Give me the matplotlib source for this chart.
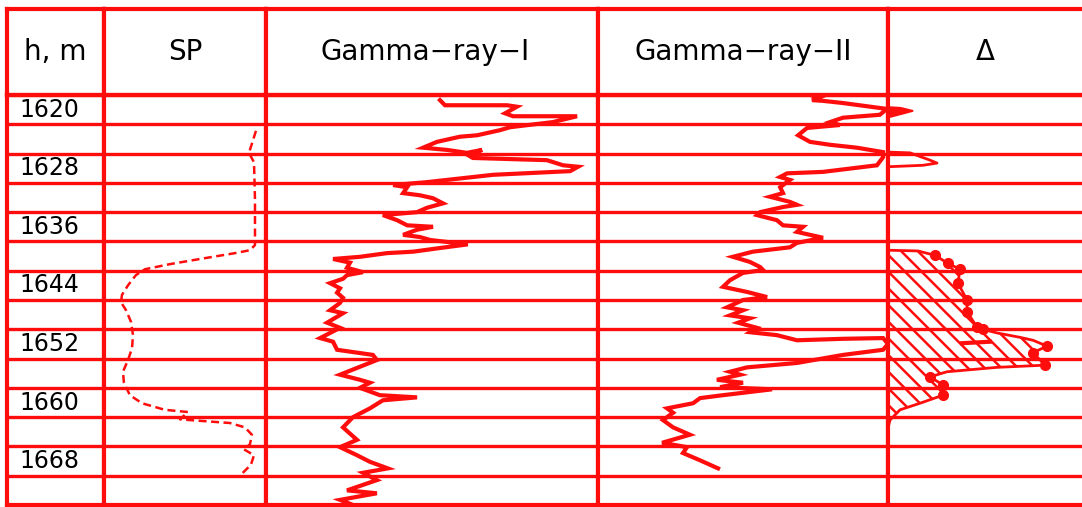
import matplotlib
matplotlib.use("Agg")
import matplotlib.pyplot as plt
import numpy as np

# ---------------------------------------------------------------- data
DEPTH_TOP, DEPTH_BOTTOM, ROW_STEP = 1618, 1674, 4
depth_labels = [1620, 1628, 1636, 1644, 1652, 1660, 1668]
headers = ["h, m", "SP", "Gamma\u2212ray\u2212I", "Gamma\u2212ray\u2212II", "\u0394"]

# SP curve (relative deflection, % of track width)
sp_depth = [1622.9, 1625.9, 1627.2, 1632.3, 1638.5, 1639.2, 1639.6, 1640.4, 1641.1,
            1641.8, 1642.6, 1644.0, 1645.3, 1646.3, 1647.4, 1649.0, 1650.8, 1652.6,
            1654.2, 1655.8, 1657.3, 1659.0, 1660.1, 1661.0, 1661.3, 1662.3, 1662.5,
            1662.8, 1663.4, 1664.4, 1665.7, 1666.4, 1667.2, 1668.5, 1670.0]
sp_value = [93.8, 89.5, 92.6, 93.2, 93.2, 90.1, 80.8, 59.2, 40.7,
            25.3, 19.7, 14.8, 11.1, 10.5, 13.6, 16.7, 17.9, 17.3,
            14.8, 11.7, 12.3, 16.0, 23.4, 37.6, 51.8, 46.9, 59.2,
            77.7, 87.0, 91.3, 90.1, 86.4, 92.6, 90.7, 83.9]

# Gamma-ray I (relative units)
gr1_depth = [1618.7, 1619.4, 1619.4, 1619.6, 1620.5, 1620.9, 1620.9, 1621.7, 1622.4,
             1622.8, 1623.5, 1623.7, 1624.4, 1625.2, 1625.5, 1625.9, 1625.5, 1626.2,
             1626.6, 1626.9, 1627.6, 1627.8, 1628.4, 1628.9, 1629.9, 1630.3, 1630.6,
             1631.4, 1631.7, 1632.1, 1632.8, 1633.4, 1634.0, 1634.4, 1635.1, 1635.8,
             1636.0, 1636.4, 1637.1, 1637.4, 1637.8, 1638.4, 1638.9, 1639.4, 1639.6,
             1640.1, 1640.4, 1640.9, 1641.6, 1642.2, 1642.6, 1643.1, 1643.7, 1644.4,
             1645.0, 1645.7, 1646.4, 1647.4, 1647.8, 1649.1, 1649.8, 1651.2, 1651.7,
             1652.8, 1653.5, 1654.2, 1656.2, 1656.9, 1657.3, 1658.0, 1659.0, 1659.3,
             1659.7, 1660.8, 1662.0, 1663.4, 1665.1, 1666.1, 1667.2, 1668.1, 1669.0,
             1669.6, 1670.6, 1672.0, 1672.4, 1673.3, 1674.0]
gr1_value = [52.4, 53.9, 72.6, 75.6, 72.0, 74.4, 93.7, 86.4, 73.5,
             70.5, 63.6, 58.4, 51.5, 47.3, 54.5, 60.5, 65.1, 60.8,
             62.3, 84.6, 89.5, 94.0, 91.6, 68.4, 48.5, 38.3, 42.5,
             41.3, 46.4, 50.3, 53.3, 48.5, 45.5, 35.2, 39.5, 42.5,
             50.3, 45.5, 41.3, 46.4, 49.4, 60.8, 52.4, 44.3, 36.4,
             28.3, 20.2, 25.3, 24.4, 29.2, 24.4, 23.2, 19.3, 22.3,
             21.4, 23.2, 22.3, 19.3, 23.2, 18.4, 22.3, 16.3, 20.2,
             21.4, 32.2, 33.4, 22.3, 28.3, 31.3, 28.3, 34.3, 45.5,
             35.2, 31.3, 26.2, 23.2, 27.4, 22.3, 27.4, 31.3, 36.7,
             29.2, 33.4, 24.4, 33.4, 22.3, 26.2]

# Gamma-ray II (relative units)
gr2_depth = [1618.0, 1618.3, 1618.7, 1618.8, 1619.1, 1619.9, 1620.7, 1621.1, 1621.7,
             1622.1, 1622.5, 1623.5, 1624.4, 1624.8, 1625.2, 1625.8, 1626.5, 1627.6,
             1628.5, 1628.7, 1629.2, 1629.6, 1630.6, 1631.4, 1631.9, 1632.6, 1633.0,
             1633.3, 1634.0, 1634.4, 1635.1, 1635.8, 1636.0, 1636.7, 1637.1, 1637.5,
             1638.2, 1638.8, 1639.4, 1640.1, 1640.8, 1641.5, 1641.9, 1642.3, 1643.3,
             1644.2, 1644.9, 1645.6, 1646.0, 1647.0, 1647.4, 1648.1, 1648.5, 1649.1,
             1649.8, 1650.4, 1650.8, 1651.5, 1651.3, 1651.2, 1652.0, 1652.8, 1653.5,
             1654.6, 1655.2, 1655.8, 1656.2, 1656.9, 1657.3, 1657.9, 1658.2, 1659.0,
             1659.4, 1660.1, 1660.8, 1661.4, 1662.4, 1663.4, 1664.4, 1665.5, 1666.1,
             1666.9, 1667.9, 1669.0]
gr2_value = [73.1, 76.5, 73.8, 77.6, 84.5, 99.6, 97.2, 84.5, 80.0,
             83.4, 72.1, 69.0, 73.1, 80.0, 89.3, 98.3, 98.3, 96.2,
             77.6, 65.2, 62.8, 66.2, 62.8, 63.8, 59.3, 66.2, 68.6,
             63.8, 55.9, 54.8, 61.7, 63.8, 70.7, 68.6, 73.1, 77.6,
             68.6, 66.2, 53.4, 46.5, 52.4, 55.9, 56.9, 50.0, 45.5,
             43.1, 51.4, 58.3, 50.0, 44.5, 50.0, 45.5, 52.4, 48.3,
             54.8, 52.4, 61.7, 68.6, 84.5, 98.3, 100.0, 98.3, 84.5,
             68.6, 51.4, 45.5, 49.0, 41.0, 50.0, 42.1, 60.0, 43.1,
             35.2, 32.8, 23.8, 25.9, 22.4, 25.9, 31.7, 22.1, 30.7,
             29.3, 35.2, 41.4]

# Difference curve (Delta) and measured points
delta_spike1_depth = [1619.6, 1619.7, 1620.1, 1620.4, 1620.9]
delta_spike1_value = [0.0, 6.0, 12.0, 8.0, 1.0]
delta_spike2_depth = [1625.8, 1625.9, 1626.9, 1627.3, 1627.6, 1627.8]
delta_spike2_value = [0.0, 11.0, 21.0, 24.5, 17.5, 0.0]

delta_depth = [1639.2, 1639.3, 1639.9, 1641.0, 1641.8, 1643.7, 1646.0, 1647.6, 1649.7,
               1650.0, 1650.5, 1651.1, 1651.5, 1652.3, 1653.2, 1654.9, 1655.2, 1655.8,
               1656.5, 1657.6, 1659.0, 1660.1, 1661.0, 1662.4, 1663.5]
delta_value = [0.0, 15.0, 23.5, 30.0, 36.0, 35.0, 39.5, 39.5, 44.5,
               47.5, 54.5, 66.0, 72.5, 79.5, 72.5, 78.5, 54.5, 29.5,
               21.0, 27.5, 27.5, 16.0, 6.0, 1.0, 0.0]

delta_pts_depth = [1639.9, 1641.0, 1641.8, 1643.7, 1646.0, 1647.6, 1649.7, 1650.0,
                   1652.3, 1653.2, 1654.9, 1656.5, 1657.6, 1659.0]
delta_pts_value = [23.5, 30.0, 36.0, 35.0, 39.5, 39.5, 44.5, 47.5,
                   79.5, 72.5, 78.5, 21.0, 27.5, 27.5]

delta_link_depth = [1651.9, 1651.7]
delta_link_value = [37.0, 51.0]

# ---------------------------------------------------------------- layout
RED = "#ff0d0d"
W, H = 1082, 507
col_edges = [7, 104, 266, 598, 888, 1100]      # pixel columns of the log sheet
top_px, head_px, bot_px = 9, 95, 505
xmax = [100, 100, 100, 100, 106]
header_x = [0.5, 0.5, 0.48, 0.5, 0.46]

plt.rcParams["hatch.color"] = RED
plt.rcParams["hatch.linewidth"] = 1.8

fig = plt.figure(figsize=(W / 100, H / 100), dpi=100, facecolor="white")


def style_frame(ax, lw=3.0):
    for s in ax.spines.values():
        s.set_color(RED)
        s.set_linewidth(lw)
    ax.set_xticks([])


tracks = []
for i in range(5):
    x0, x1 = col_edges[i], col_edges[i + 1]
    # header cell
    hax = fig.add_axes([x0 / W, 1 - head_px / H, (x1 - x0) / W, (head_px - top_px) / H])
    style_frame(hax)
    hax.set_yticks([])
    hax.set_xlim(0, 1)
    hax.set_ylim(0, 1)
    hax.text(header_x[i], 0.5, headers[i], ha="center", va="center",
             fontsize=20, color="black", family="DejaVu Sans")

    # depth track
    ax = fig.add_axes([x0 / W, 1 - bot_px / H, (x1 - x0) / W, (bot_px - head_px) / H])
    style_frame(ax)
    ax.set_xlim(0, xmax[i])
    ax.set_ylim(DEPTH_BOTTOM, DEPTH_TOP)
    ax.set_yticks(np.arange(DEPTH_TOP, DEPTH_BOTTOM + 1, ROW_STEP))
    ax.tick_params(axis="y", length=0, labelleft=False)
    ax.grid(axis="y", color=RED, linewidth=2.4)
    ax.set_axisbelow(True)
    tracks.append(ax)

ax_h, ax_sp, ax_g1, ax_g2, ax_d = tracks

for d in depth_labels:
    ax_h.text(12.5, d, str(d), ha="left", va="center", fontsize=17, color="black")

ax_sp.plot(sp_value, sp_depth, color=RED, lw=1.8, linestyle=(0, (3.2, 1.8)))
ax_g1.plot(gr1_value, gr1_depth, color=RED, lw=3.0, solid_joinstyle="miter")
ax_g2.plot(gr2_value, gr2_depth, color=RED, lw=3.0, solid_joinstyle="miter")

ax_d.fill_betweenx(delta_spike1_depth, 0, delta_spike1_value, facecolor=RED, edgecolor=RED, lw=1.5)
ax_d.fill_betweenx(delta_spike2_depth, 0, delta_spike2_value, facecolor="none", edgecolor=RED, lw=2.0)
ax_d.fill_betweenx(delta_depth, 0, delta_value, facecolor="none", edgecolor=RED,
                   hatch="\\\\", lw=0)
ax_d.plot(delta_value, delta_depth, color=RED, lw=2.0)
ax_d.plot(delta_link_value, delta_link_depth, color=RED, lw=3.0)
ax_d.plot(delta_pts_value, delta_pts_depth, "o", color=RED, ms=7)

fig.savefig("out.png", dpi=100, facecolor="white")
